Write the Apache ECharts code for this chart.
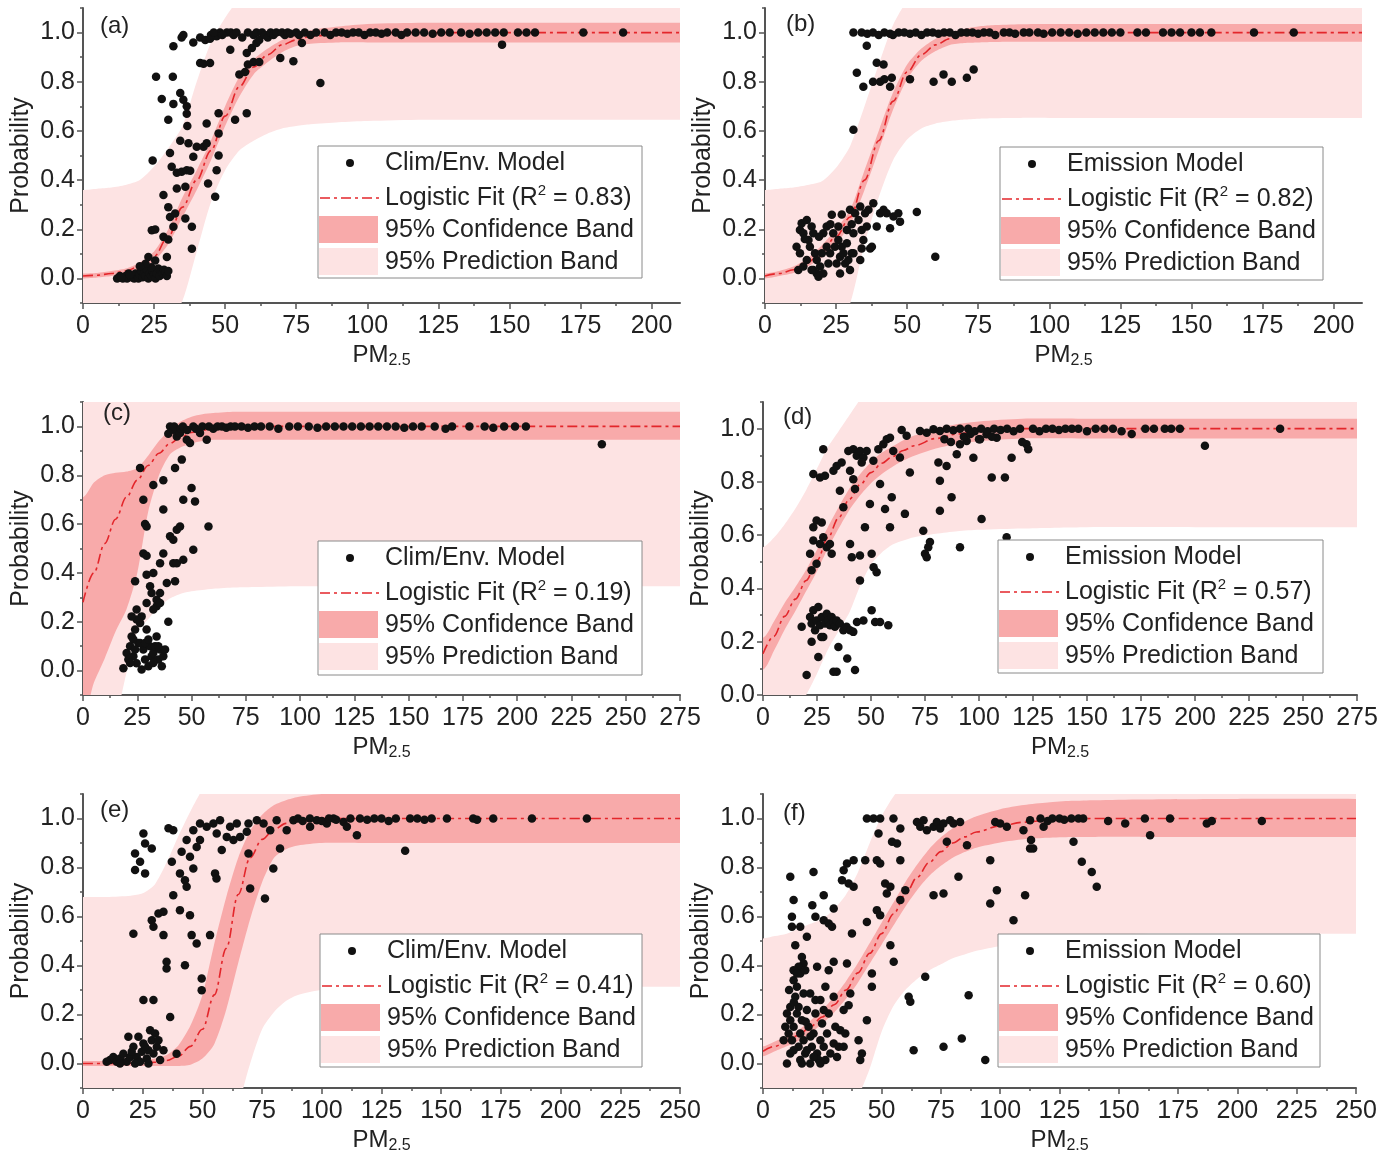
<!DOCTYPE html>
<html><head><meta charset="utf-8">
<script src="https://cdn.jsdelivr.net/npm/echarts@6/dist/echarts.min.js"></script>
<style>html,body{margin:0;padding:0;background:#fff}#c{width:1393px;height:1163px}</style>
</head><body><div id="c"></div>
<script>
// ---------------- text ----------------
const panelLabels = ['(a)','(b)','(c)','(d)','(e)','(f)'];
const modelNames = ['Clim/Env. Model','Emission Model','Clim/Env. Model','Emission Model','Clim/Env. Model','Emission Model'];
const r2Values = ['0.83','0.82','0.19','0.57','0.41','0.60'];
const legendRows = ['Logistic Fit','95% Confidence Band','95% Prediction Band'];
const yAxisName = 'Probability';
// ---------------- ticks ----------------
const xTicksAB = [0,25,50,75,100,125,150,175,200];
const xTicksCD = [0,25,50,75,100,125,150,175,200,225,250,275];
const xTicksEF = [0,25,50,75,100,125,150,175,200,225,250];
const yTicks = [0,0.2,0.4,0.6,0.8,1.0];
// ---------------- panel (a) ----------------
const aX = [0,5,10,15,20,25,30,35,40,45,50,55,60,65,70,75,80,90,100,120,150,180,210];
const aFit = [0.01,0.013,0.02,0.03,0.05,0.09,0.17,0.29,0.40,0.52,0.66,0.78,0.86,0.91,0.95,0.97,0.985,0.995,1,1,1,1,1];
const aConfLo = [0,0.004,0.01,0.02,0.035,0.07,0.14,0.25,0.36,0.48,0.62,0.74,0.83,0.88,0.92,0.945,0.955,0.96,0.96,0.96,0.96,0.96,0.96];
const aConfHi = [0.02,0.022,0.03,0.04,0.065,0.11,0.20,0.33,0.44,0.56,0.70,0.82,0.89,0.935,0.97,0.99,1.01,1.025,1.035,1.04,1.04,1.04,1.04];
const aPredLo = [-0.34,-0.335,-0.33,-0.32,-0.30,-0.26,-0.19,-0.09,0.11,0.31,0.44,0.52,0.56,0.59,0.61,0.62,0.627,0.635,0.64,0.645,0.645,0.645,0.645];
const aPredHi = [0.36,0.365,0.37,0.38,0.40,0.455,0.53,0.62,0.80,0.96,1.06,1.14,1.19,1.22,1.24,1.26,1.27,1.29,1.3,1.3,1.3,1.3,1.3];
const aPoints = [[12,0],[13,0.01],[14,0],[15,0.01],[15.5,0],[16,0.02],[17,0.005],[17.5,0.01],[18,0],[18.5,0.02],[19,0.01],[19.5,0],[20,0.015],[20.5,0.03],[21,0.005],[21.5,0.02],[22,0.01],[22.5,0.035],[23,0],[23.5,0.02],[24,0.01],[24.5,0.03],[25,0.015],[25.5,0],[26,0.02],[26.5,0.04],[27,0.01],[27.5,0.03],[28,0.02],[28.5,0.035],[29,0.025],[29.5,0.01],[30,0.03],[13.5,0.005],[16.5,0.015],[24,0.045],[22,0.06],[20,0.05],
[24.5,0.48],[25.7,0.82],[31.6,0.82],[27.7,0.73],[31.8,0.71],[30,0.645],[30.6,0.51],[31.8,0.944],[34.7,0.98],[35.3,0.99],[34.2,0.754],[35.3,0.727],[36.5,0.70],[36.5,0.67],[36.7,0.62],[34.2,0.56],[37.1,0.55],[31.2,0.454],[33,0.43],[34.7,0.434],[36.5,0.44],[37.7,0.438],[33,0.366],[36,0.373],[28.3,0.339],[30,0.29],[30.6,0.25],[32.4,0.264],[31.8,0.21],[36,0.244],[38.3,0.21],[24.2,0.196],[25.4,0.199],[28.3,0.169],[30,0.158],[38.3,0.121],[29.5,0.087],[25.4,0.073],[23,0.087],[38.8,0.495],[40,0.536],[42.4,0.536],[43.5,0.55],[43.5,0.63],[44,0.386],[46.5,0.332],[47,0.44],[47.7,0.50],[47.7,0.59],[47.7,0.672],[53.5,0.645],[57.6,0.672],[41.2,0.876],[42.4,0.873],[44.7,0.876],[38.8,0.96],[41.2,0.98],[43,0.97],[44.7,0.975],[47,0.985],[48.2,1],[50.6,1],[51.8,0.93],[55,0.83],[57,0.84],[58,0.87],[60,0.88],[62,0.88],[57.6,0.917],[59.4,0.937],[61,0.958],[69.4,0.897],[74,0.883],[77,0.958],[83.5,0.795],[147.4,0.951],
[45,0.99],[46,1],[49,0.99],[52,1],[53,0.99],[54,1],[56,0.98],[58,1],[60,0.99],[61,1],[62,0.97],[63,1],[64,0.99],[65,0.98],[66,1],[67,0.99],[68,1],[70,1],[71,0.99],[72,1],[73,0.995],[75,1],[76,0.99],[78,1],[80,0.99],[82,1],[85,1],[87,0.99],[89,1],[91,1],[93,0.995],[95,1],[97,1],[99,0.99],[101,1],[103,1],[105,0.995],[107,1],[110,1],[112,0.99],[114,1],[117,1],[120,1],[123,0.995],[126,1],[129,1],[133,1],[136,0.995],[139,1],[142,1],[145,1],[148,1],[153,1],[156,1],[159,1],[176,1],[190,1]];
// ---------------- panel (b) ----------------
const bX = [0,5,10,15,20,25,30,35,40,45,50,55,60,65,70,75,80,90,100,120,150,180,210];
const bFit = [0.01,0.02,0.035,0.065,0.11,0.17,0.25,0.40,0.56,0.72,0.84,0.91,0.95,0.975,0.99,0.995,1,1,1,1,1,1,1];
const bConfLo = [0,0.01,0.022,0.048,0.085,0.14,0.22,0.36,0.52,0.685,0.81,0.885,0.925,0.95,0.958,0.96,0.962,0.963,0.963,0.963,0.963,0.963,0.963];
const bConfHi = [0.02,0.03,0.048,0.082,0.135,0.2,0.28,0.44,0.60,0.755,0.87,0.935,0.975,1.0,1.015,1.025,1.03,1.034,1.035,1.035,1.035,1.035,1.035];
const bPredLo = [-0.34,-0.335,-0.33,-0.31,-0.27,-0.2,-0.1,0.14,0.33,0.48,0.565,0.61,0.63,0.64,0.646,0.65,0.652,0.653,0.653,0.653,0.653,0.653,0.653];
const bPredHi = [0.36,0.365,0.37,0.38,0.395,0.45,0.54,0.70,0.87,1.03,1.13,1.19,1.23,1.26,1.28,1.29,1.3,1.3,1.3,1.3,1.3,1.3,1.3];
const bPoints = [[31.1,1],[35.8,0.946],[32.3,0.837],[34.6,0.78],[31.1,0.605],[39.3,0.877],[41.7,0.87],[38,0.80],[40.5,0.80],[42,0.81],[44.6,0.816],[44,0.78],[51,0.81],[59.3,0.80],[62.8,0.83],[65.7,0.80],[71,0.816],[73.4,0.85],[59.9,0.088],[53.4,0.27],
[34,1],[36,0.995],[38,1],[40,0.99],[42,1],[44,0.995],[45,0.99],[47,1],[49,1],[51,0.995],[53,1],[55,0.99],[57,1],[59,1],[61,0.995],[63,1],[65,1],[67,0.99],[69,1],[71,1],[73,1],[75,0.995],[77,1],[79,1],[81,0.99],[84,1],[86,1],[88,0.995],[91,1],[93,1],[96,1],[98,0.995],[101,1],[104,1],[107,1],[110,0.995],[113,1],[116,1],[119,1],[122,1],[125,1],[131,1],[134,1],[140,1],[143,1],[146,1],[150,1],[153,1],[157,1],[172,1],[186,1],
[12.3,0.197],[12.9,0.224],[13.5,0.184],[14.7,0.238],[15.3,0.156],[15.8,0.129],[16.4,0.211],[17,0.184],[17.6,0.102],[18.2,0.075],[18.2,0.02],[18.8,0.007],[17,0.034],[19.4,0.048],[20,0.102],[20.5,0.184],[21.7,0.211],[22.3,0.061],[22.9,0.102],[23.5,0.259],[24,0.184],[24.6,0.129],[25.2,0.061],[25.8,0.156],[26.4,0.088],[27,0.129],[27.6,0.102],[28.2,0.061],[28.8,0.143],[29.3,0.075],[29.9,0.034],[30.5,0.102],[31.1,0.184],[29.9,0.279],[31.7,0.265],[32.9,0.238],[33.5,0.293],[34,0.197],[34.6,0.156],[35.2,0.265],[35.8,0.211],[36.4,0.279],[37,0.122],[38.1,0.306],[39.3,0.211],[40.5,0.265],[41.7,0.279],[42.8,0.265],[44,0.204],[45.2,0.252],[46.9,0.265],[47.5,0.231],[34,0.122],[37.6,0.129],[33.5,0.075],[26.4,0.02],[11.7,0.034],[13.5,0.048],[14.7,0.075],[12.3,0.102],[16.4,0.034],[20.5,0.02],[21.7,0.129],[25.8,0.211],[28.8,0.197],[31.1,0.102],[11.1,0.129],[14,0.16],[19,0.17],[23,0.22],[27,0.26],[30.5,0.22]];
// ---------------- panel (c) ----------------
const cX = [0,5,10,15,20,25,30,35,40,45,50,55,60,70,80,100,150,200,275];
const cFit = [0.28,0.40,0.52,0.62,0.71,0.78,0.84,0.89,0.93,0.955,0.975,0.985,0.99,0.997,1,1,1,1,1];
const cConfLo = [-0.18,-0.05,0.05,0.16,0.25,0.40,0.65,0.80,0.885,0.915,0.93,0.94,0.945,0.945,0.945,0.945,0.945,0.945,0.945];
const cConfHi = [0.71,0.77,0.80,0.81,0.815,0.83,0.88,0.94,0.985,1.02,1.04,1.05,1.055,1.06,1.06,1.06,1.06,1.06,1.06];
const cPredLo = [-0.45,-0.38,-0.3,-0.2,-0.01,0.16,0.21,0.26,0.295,0.315,0.325,0.33,0.335,0.34,0.342,0.345,0.345,0.345,0.345];
const cPredHi = [1.3,1.3,1.3,1.3,1.3,1.3,1.3,1.3,1.3,1.3,1.3,1.3,1.3,1.3,1.3,1.3,1.3,1.3,1.3];
const cPoints = [[26.3,0.83],[27.8,0.70],[28.6,0.60],[29.3,0.59],[27.8,0.48],[29.3,0.47],[24,0.366],[29.3,0.393],[32.4,0.76],[37,0.78],[37,0.66],[32.4,0.40],[35.5,0.44],[37,0.48],[40.1,0.55],[41.6,0.536],[43.2,0.577],[44.7,0.59],[41.6,0.44],[43.2,0.44],[46.2,0.454],[50.8,0.495],[38.6,0.359],[42.4,0.366],[46.2,0.70],[50,0.748],[51.6,0.693],[57.8,0.59],[42.4,0.83],[45.5,0.864],[30.9,0.345],[31.6,0.318],[33.9,0.29],[33.9,0.263],[35.5,0.277],[32.4,0.25],[39.3,0.20],[35.5,0.318],
[18.6,0.01],[20.1,0.072],[21.7,0.10],[22.4,0.14],[23.2,0.059],[24,0.168],[24.7,0.03],[25.5,0.113],[26.3,0.195],[27,0.222],[27.8,0.086],[28.6,0.045],[29.3,0.168],[30.1,0.018],[30.9,0.10],[31.6,0.059],[32.4,0.072],[33.2,0.10],[33.9,0.14],[34.7,0.045],[35.5,0.086],[36.3,0.018],[37,0.059],[37.8,0.086],[20.9,0.045],[23.2,0.127],[24.7,0.209],[26.3,0.113],[28.6,0.113],[30.1,0.127],[32.4,0.031],[34.7,0.10],[24,0.086],[21.7,0.031],[27,0.004],[22.4,0.222],[24.7,0.25],[29.3,0.277],
[39.3,0.97],[40.1,1],[41.6,0.986],[43.2,0.959],[44.7,0.973],[47.8,0.945],[49.3,0.932],[50.8,1],[53.9,0.973],[57,0.945],[42,1],[45,0.99],[46,1],[48,0.985],[52,0.99],[55,1],[58,1],[60,0.99],[62,1],[64,1],[66,0.995],[68,1],[70,1],[73,1],[76,0.995],[79,1],[82,1],[86,1],[90,0.99],[95,1],[99,1],[104,1],[108,0.995],[112,1],[116,1],[120,1],[124,1],[128,1],[132,1],[136,1],[140,1],[144,1],[148,0.995],[152,1],[156,1],[162,1],[167,0.99],[170,1],[178,1],[185,1],[189,0.995],[194,1],[199,1],[204,1],[239,0.927]];
// ---------------- panel (d) ----------------
const dX = [0,5,10,15,20,25,30,35,40,45,50,55,60,65,70,80,90,100,120,150,200,275];
const dFit = [0.155,0.22,0.295,0.36,0.43,0.505,0.59,0.665,0.735,0.79,0.835,0.87,0.895,0.918,0.936,0.963,0.98,0.99,1,1,1,1];
const dConfLo = [0.095,0.165,0.245,0.315,0.39,0.465,0.55,0.625,0.695,0.75,0.795,0.83,0.857,0.88,0.898,0.925,0.943,0.953,0.963,0.963,0.963,0.963];
const dConfHi = [0.215,0.275,0.345,0.405,0.47,0.545,0.63,0.705,0.775,0.83,0.875,0.91,0.933,0.956,0.974,1.0,1.017,1.027,1.037,1.037,1.037,1.037];
const dPredLo = [-0.25,-0.19,-0.13,-0.07,0.0,0.08,0.17,0.24,0.31,0.41,0.49,0.535,0.565,0.58,0.592,0.605,0.615,0.62,0.625,0.63,0.63,0.63];
const dPredHi = [0.555,0.59,0.64,0.70,0.77,0.85,0.93,0.99,1.05,1.11,1.16,1.2,1.23,1.25,1.27,1.3,1.32,1.34,1.36,1.37,1.37,1.37];
const dPoints = [[20.2,0.075],[17.9,0.256],[21.8,0.293],[22.5,0.268],[23.3,0.318],[24.1,0.243],[24.8,0.28],[25.6,0.33],[26.4,0.262],[27.2,0.293],[27.9,0.218],[28.7,0.268],[29.5,0.305],[30.2,0.28],[31,0.262],[31.8,0.293],[32.6,0.274],[33.3,0.256],[34.1,0.28],[35.6,0.268],[37.2,0.243],[38.7,0.256],[40.3,0.243],[41.8,0.237],[43.5,0.274],[46.5,0.28],[50.3,0.318],[51.9,0.274],[54.2,0.274],[58,0.262],[22.5,0.2],[27,0.218],[25.6,0.143],[34.9,0.18],[39,0.137],[32.6,0.087],[34.1,0.087],[42.6,0.094],
[21.8,0.53],[23.3,0.63],[24.8,0.655],[27.2,0.648],[27.9,0.592],[26.4,0.567],[23.3,0.58],[29.5,0.555],[22.5,0.468],[24.8,0.493],[27.9,0.923],[23.3,0.83],[26.4,0.817],[28.7,0.823],[32.6,0.842],[34.1,0.86],[36.4,0.873],[35.6,0.767],[37.2,0.705],[31.8,0.53],[31,0.567],[40.3,0.567],[41.1,0.517],[44.9,0.524],[44.9,0.43],[47.2,0.63],[49.5,0.717],[50.3,0.53],[51.2,0.48],[52.6,0.461],[54.2,0.792],[56.5,0.698],[58.8,0.63],[59.6,0.742],[65.7,0.68],[68,0.835],[39.5,0.916],[41.8,0.923],[43.4,0.898],[44.9,0.916],[46.5,0.892],[40.3,0.842],[41.8,0.81],[42.6,0.773],[45.7,0.873],[48,0.916],[51.1,0.879],[53.4,0.923],[55.7,0.941],[57.3,0.96],[58.8,0.966],[60.3,0.916],[64.2,0.995],[66.5,0.973],[63.4,0.892],
[74.2,0.617],[75,0.53],[75.8,0.517],[76.5,0.555],[77.3,0.574],[81.2,0.873],[81.9,0.804],[81.9,0.692],[85,0.86],[87.3,0.742],[91.2,0.555],[89.7,0.904],[91.2,0.941],[94.3,0.954],[101.2,0.661],[105.9,0.817],[112,0.817],[112.8,0.592],[115.1,0.891],[122,0.941],[122.8,0.923],[97.4,0.891],[100.5,0.96],[103.5,0.979],[108.2,0.966],
[72.7,0.991],[75.8,0.985],[78.9,0.998],[81.9,0.991],[85,1],[88.1,0.994],[91.2,1],[95,1],[98,0.99],[101,1],[104,0.99],[107,1],[110,0.995],[113,1],[116,0.99],[119,1],[125,1],[128,0.99],[131,1],[134,1],[137,0.995],[140,1],[143,1],[146,1],[150,0.99],[154,1],[158,1],[162,1],[166,0.99],[170.7,0.98],[177,1],[181,1],[186,1],[189,1],[193,1],[204.6,0.936],[239.4,1],[84,0.96],[87,0.95],[93,0.97],[96,0.98],[100,0.96],[106,0.97],[120,0.95]];
// ---------------- panel (e) ----------------
const eX = [0,10,20,25,30,35,40,45,50,55,60,65,70,75,80,85,90,100,120,150,200,250];
const eFit = [0,0,0.001,0.002,0.005,0.012,0.03,0.07,0.14,0.28,0.47,0.69,0.84,0.915,0.955,0.98,0.992,1,1,1,1,1];
const eConfLo = [-0.01,-0.01,-0.01,-0.01,-0.01,-0.01,-0.01,-0.005,0.02,0.08,0.22,0.41,0.59,0.74,0.84,0.875,0.89,0.9,0.9,0.9,0.9,0.9];
const eConfHi = [0.01,0.01,0.012,0.015,0.02,0.035,0.075,0.155,0.28,0.49,0.68,0.84,0.95,1.015,1.055,1.075,1.088,1.1,1.1,1.1,1.1,1.1];
const ePredLo = [-0.68,-0.68,-0.68,-0.68,-0.68,-0.68,-0.67,-0.63,-0.55,-0.42,-0.28,-0.17,0.0,0.14,0.21,0.255,0.28,0.30,0.31,0.313,0.313,0.313];
const ePredHi = [0.68,0.68,0.685,0.695,0.73,0.82,0.93,1.03,1.12,1.2,1.25,1.28,1.3,1.31,1.31,1.31,1.31,1.31,1.31,1.31,1.31,1.31];
const ePoints = [[21.8,0.857],[21.8,0.79],[23.9,0.823],[26,0.776],[25.3,0.939],[26,0.898],[28.8,0.878],[21.1,0.53],[25.3,0.259],[29.5,0.259],[28.8,0.585],[29.5,0.558],[31.6,0.612],[33.7,0.619],[33.7,0.524],[35,0.415],[35,0.388],[36.5,0.19],[35.8,0.96],[37.8,0.952],[37.2,0.823],[37.8,0.687],[40.6,0.626],[40.6,0.776],[41.3,0.864],[42.7,0.748],[43.4,0.721],[42.7,0.401],[44.8,0.605],[45.5,0.524],[47.6,0.49],[49.7,0.347],[49.7,0.299],[53.2,0.524],[43.4,0.912],[44.8,0.844],[46.2,0.796],[47.6,0.884],[49,0.912],[46.2,0.952],[49,0.98],[51.8,0.966],[55.3,0.776],[55.9,0.755],[58.1,0.871],[57.4,0.993],[60.2,0.925],[63,0.912],[65.8,0.925],[68.6,0.946],[69.3,0.857],[70,0.714],[69.3,0.98],[72.8,0.993],[75.6,0.98],[76.2,0.673],[79.7,0.796],[82.5,0.878],[78.4,0.952],[81.1,0.993],[85.3,0.952],[88.1,0.993],[95.1,0.966],[97.9,0.993],[102.1,0.98],[104.9,1],[109.1,0.986],[54.6,0.98],[56,0.939],[61.6,0.966],[64.4,0.98],[39.2,0.04],
[11.3,0.014],[12.7,0.027],[14.1,0.007],[15.5,0.02],[16.9,0.04],[18.3,0.007],[19.7,0.027],[19,0.109],[21.1,0.068],[22.5,0.027],[23.2,0.109],[23.9,0.007],[24.6,0.048],[25.3,0.082],[26.7,0.02],[27.4,0.054],[28.1,0.136],[28.8,0.095],[29.5,0.041],[30.2,0.122],[30.9,0.068],[31.6,0.095],[32.3,0.014],[33.7,0.054],[20.4,0.048],[26,0.068],[9.9,0.007],[15.5,0],[21.8,0],[27.4,0],
[90,1],[92,0.99],[95,1],[100,0.99],[103,1],[106,0.995],[110.5,0.966],[114.7,0.932],[112,1],[116,1],[119,0.995],[122,1],[125,1],[128,0.99],[131,1],[134.9,0.868],[137,1],[140,1],[143,0.995],[146,1],[152.4,1],[163.4,1],[165,0.995],[171.8,1],[188,1],[211,1]];
// ---------------- panel (f) ----------------
const fX = [0,5,10,15,20,25,30,35,40,45,50,55,60,65,70,75,80,85,90,100,110,120,130,140,160,200,250];
const fFit = [0.05,0.07,0.09,0.115,0.15,0.19,0.24,0.30,0.37,0.45,0.53,0.61,0.69,0.76,0.82,0.865,0.90,0.925,0.945,0.97,0.985,0.993,0.998,1,1,1,1];
const fConfLo = [0.03,0.05,0.07,0.093,0.125,0.162,0.208,0.264,0.33,0.408,0.485,0.563,0.64,0.708,0.765,0.807,0.84,0.863,0.881,0.902,0.915,0.921,0.924,0.925,0.925,0.925,0.925];
const fConfHi = [0.07,0.09,0.11,0.137,0.175,0.218,0.272,0.336,0.41,0.492,0.575,0.657,0.74,0.812,0.875,0.923,0.96,0.987,1.009,1.038,1.055,1.065,1.072,1.075,1.078,1.08,1.08];
const fPredLo = [-0.41,-0.40,-0.39,-0.38,-0.37,-0.35,-0.30,-0.24,-0.14,-0.02,0.13,0.235,0.30,0.345,0.38,0.405,0.43,0.445,0.46,0.48,0.495,0.51,0.52,0.525,0.53,0.53,0.53];
const fPredHi = [0.51,0.52,0.53,0.55,0.57,0.59,0.63,0.69,0.78,0.90,1.01,1.09,1.15,1.2,1.24,1.27,1.3,1.32,1.34,1.37,1.39,1.4,1.41,1.42,1.43,1.44,1.45];
const fPoints = [[11.5,0.762],[12.9,0.667],[12.2,0.599],[12.2,0.558],[13.6,0.483],[15.7,0.558],[16.4,0.435],[17.1,0.408],[15,0.395],[12.9,0.34],[15.7,0.367],[17.8,0.381],[18.5,0.517],[20.8,0.646],[21.3,0.782],[22.8,0.395],[22.1,0.599],[25.6,0.687],[25.6,0.585],[27.7,0.571],[29.1,0.558],[29.8,0.633],[26.3,0.313],[27.7,0.381],[29.8,0.415],[29.8,0.272],[33.3,0.748],[34,0.789],[35.4,0.816],[38.2,0.83],[36.1,0.735],[38.2,0.721],[35.4,0.408],[37.5,0.531],[36.8,0.286],[36.1,0.238],[34,0.218],[43.1,0.83],[43.8,1],[46.6,1],[49.4,1],[55,1],[48.7,0.939],[48,0.83],[49.4,0.816],[48,0.626],[49.4,0.605],[45.9,0.367],[45.9,0.313],[43.8,0.578],[54.4,0.905],[56.5,0.898],[57.9,0.959],[57.9,0.83],[51.5,0.735],[52.2,0.694],[53.7,0.721],[53.7,0.483],[55.1,0.415],[57.9,0.667],[60,0.707],[61.4,0.272],[62.1,0.252],[68.4,0.354],[63.5,0.054],[64.9,0.986],[66.3,0.966],[67.7,0.993],[69.1,0.952],[71.9,0.966],[73.3,0.986],[74.7,0.959],[76.1,0.98],[77.5,0.905],[78.9,0.993],[80.3,0.98],[83.1,0.986],[71.9,0.687],[76.1,0.694],[82.4,0.762],[86,0.891],[86.7,0.279],[76.1,0.068],[83.8,0.102],[93.7,0.014],[95.8,0.83],[95.8,0.653],[98.6,0.707],[97.9,0.986],[100,0.98],[102.8,0.966],[105.6,0.585],[110.5,0.687],[112.6,0.993],[113.9,0.878],[109.8,0.952],
[10.1,0],[11.5,0.041],[12.2,0.095],[12.9,0.15],[10.1,0.204],[10.8,0.122],[11.5,0.231],[13.6,0.272],[14.3,0.204],[15,0.068],[15.7,0.014],[15.7,0.122],[16.4,0.177],[17.1,0.095],[17.8,0.041],[18.5,0.218],[19.2,0.15],[19.9,0],[20.6,0.068],[21.3,0.122],[22.1,0.204],[22.8,0.041],[23.5,0.014],[24.2,0.095],[24.9,0.163],[25.6,0.068],[26.3,0.014],[27,0.122],[27.7,0.204],[28.4,0.041],[29.8,0.082],[30.5,0.15],[31.2,0.027],[31.9,0.068],[32.6,0.136],[34,0.068],[34.7,0.122],[8.7,0.095],[9.4,0.15],[11.5,0.177],[14.3,0.313],[15,0.231],[17.1,0.286],[19.9,0.286],[22.1,0.259],[24.2,0.259],[25.6,0.218],[21.3,0.027],[18.5,0.054],[12.9,0.054],[16.4,0],[24.2,0],[40.3,0.095],[41,0.014],[41.7,0.041],[43.8,0.177],[12.9,0.381],[14.3,0.367],[11,0.3],[13,0.25],[18,0.17],[20,0.11],
[112.6,0.878],[113,0.912],[118.3,0.966],[130.9,0.905],[134.4,0.823],[138.6,0.782],[140.7,0.721],[117,1],[120,0.99],[122,1],[125,1],[127,0.995],[130,1],[133,1],[135,1],[145.5,0.99],[152.7,0.98],[161,1],[163.2,0.932],[171.6,1],[187.1,0.98],[189.2,0.99],[210.3,0.99]];

// ---------------- assemble ----------------
const panelData = [
  {X:aX, fit:aFit, cLo:aConfLo, cHi:aConfHi, pLo:aPredLo, pHi:aPredHi, pts:aPoints, xMax:210, yMin:-0.1, xTicks:xTicksAB},
  {X:bX, fit:bFit, cLo:bConfLo, cHi:bConfHi, pLo:bPredLo, pHi:bPredHi, pts:bPoints, xMax:210, yMin:-0.1, xTicks:xTicksAB},
  {X:cX, fit:cFit, cLo:cConfLo, cHi:cConfHi, pLo:cPredLo, pHi:cPredHi, pts:cPoints, xMax:275, yMin:-0.1, xTicks:xTicksCD},
  {X:dX, fit:dFit, cLo:dConfLo, cHi:dConfHi, pLo:dPredLo, pHi:dPredHi, pts:dPoints, xMax:275, yMin:0, xTicks:xTicksCD},
  {X:eX, fit:eFit, cLo:eConfLo, cHi:eConfHi, pLo:ePredLo, pHi:ePredHi, pts:ePoints, xMax:250, yMin:-0.1, xTicks:xTicksEF},
  {X:fX, fit:fFit, cLo:fConfLo, cHi:fConfHi, pLo:fPredLo, pHi:fPredHi, pts:fPoints, xMax:250, yMin:-0.1, xTicks:xTicksEF}
];
const layout = [
  {grid:{left:83,top:8,width:597,height:295}, legend:{x:318,y:146,w:324,h:132}, tag:{x:100,y:26}},
  {grid:{left:765,top:8,width:597,height:295}, legend:{x:1000,y:147,w:323,h:133}, tag:{x:786,y:24}},
  {grid:{left:83,top:402,width:597,height:293}, legend:{x:318,y:541,w:324,h:134}, tag:{x:103,y:413}},
  {grid:{left:763,top:402,width:594,height:293}, legend:{x:998,y:540,w:325,h:133}, tag:{x:783,y:417}},
  {grid:{left:83,top:794,width:597,height:294}, legend:{x:320,y:934,w:322,h:133}, tag:{x:100,y:810}},
  {grid:{left:763,top:794,width:593,height:294}, legend:{x:998,y:934,w:322,h:133}, tag:{x:783,y:813}}
];
const FONT = '"Liberation Sans", Arial, sans-serif';
const TXT = '#222';
const AX = '#555';
const PRED = '#fde3e3';
const CONF = '#f8aaaa';
const FITC = '#e3262b';
const DASH = [10,4,3,4];

function minorOf(ticks, lo, hi){
  const step = ticks[1]-ticks[0], out=[];
  for (let v = ticks[0]-step/2; v <= hi+1e-9; v += step){ if (v >= lo-1e-9) out.push(+v.toFixed(4)); }
  return out;
}

// band drawn as one filled polygon through the library's coordinate system
function bandSeries(i, X, lo, hi, color, z){
  return {
    type:'custom', xAxisIndex:2*i, yAxisIndex:2*i, z:z, silent:true, animation:false, clip:true,
    data: X.map((x,k)=>[x, lo[k], hi[k]]),
    encode:{x:0, y:[1,2]},
    renderItem:(params, api)=>{
      if (params.dataIndex !== 0) return null;
      const n = X.length;
      const top = [], bot = [];
      for (let k=0;k<n;k++){ top.push(api.coord([api.value(0,k), api.value(2,k)])); }
      for (let k=n-1;k>=0;k--){ bot.push(api.coord([api.value(0,k), api.value(1,k)])); }
      const ext = 30;
      const pts = [[top[0][0]-ext, top[0][1]]].concat(top, [[top[n-1][0]+ext, top[n-1][1]], [bot[0][0]+ext, bot[0][1]]], bot, [[bot[n-1][0]-ext, bot[n-1][1]]]);
      const cs = params.coordSys;
      return {type:'polygon', shape:{points:pts, smooth:0.25}, style:{fill:color, stroke:null},
        clipPath:{type:'rect', shape:{x:cs.x, y:cs.y, width:cs.width, height:cs.height}}};
    }
  };
}

const grids=[], xAxes=[], yAxes=[], series=[], graphics=[];
panelData.forEach((p,i)=>{
  const L = layout[i];
  grids.push(Object.assign({outerBoundsMode:'none', containLabel:false}, L.grid));
  const tickStyle = {color:AX, width:1.5};
  xAxes.push({type:'value', gridIndex:i, min:0, max:p.xMax, position:'bottom',
    axisLine:{show:true, onZero:false, lineStyle:{color:AX, width:2}},
    axisTick:{show:true, customValues:p.xTicks, length:6, lineStyle:tickStyle},
    axisLabel:{show:true, customValues:p.xTicks, fontSize:25, color:TXT, fontFamily:FONT, margin:11},
    splitLine:{show:false},
    name:'{pm|PM}{sub|2.5}', nameLocation:'middle', nameGap:38, nameMoveOverlap:false,
    nameTextStyle:{fontFamily:FONT, color:TXT, rich:{pm:{fontSize:24, lineHeight:28, fontFamily:FONT, color:TXT}, sub:{fontSize:16, lineHeight:6, verticalAlign:'bottom', fontFamily:FONT, color:TXT}}}
  });
  xAxes.push({type:'value', gridIndex:i, min:0, max:p.xMax, position:'bottom',
    axisLine:{show:false, onZero:false}, axisTick:{show:true, customValues:minorOf(p.xTicks,0,p.xMax), length:3, lineStyle:tickStyle},
    axisLabel:{show:false}, splitLine:{show:false}});
  yAxes.push({type:'value', gridIndex:i, min:p.yMin, max:1.1, position:'left',
    axisLine:{show:true, onZero:false, lineStyle:{color:AX, width:2}},
    axisTick:{show:true, customValues:yTicks, length:6, lineStyle:tickStyle},
    axisLabel:{show:true, customValues:yTicks, fontSize:25, color:TXT, fontFamily:FONT, margin:8, formatter:v=>Number(v).toFixed(1)},
    splitLine:{show:false},
    name:yAxisName, nameLocation:'middle', nameGap:49, nameRotate:90, nameMoveOverlap:false,
    nameTextStyle:{fontSize:25, color:TXT, fontFamily:FONT}
  });
  yAxes.push({type:'value', gridIndex:i, min:p.yMin, max:1.1, position:'left',
    axisLine:{show:false, onZero:false}, axisTick:{show:true, customValues:minorOf(yTicks,p.yMin,1.1), length:3, lineStyle:tickStyle},
    axisLabel:{show:false}, splitLine:{show:false}});
  const xi = 2*i, yi = 2*i;
  series.push(bandSeries(i, p.X, p.pLo, p.pHi, PRED, 1));
  series.push(bandSeries(i, p.X, p.cLo, p.cHi, CONF, 2));
  series.push({type:'line', xAxisIndex:xi, yAxisIndex:yi, symbol:'none', smooth:0.35, smoothMonotone:'x', z:3, animation:false, clip:true, silent:true,
    lineStyle:{color:FITC, width:1.6, type:DASH}, data:p.X.map((x,k)=>[x,p.fit[k]])});
  series.push({type:'scatter', xAxisIndex:xi, yAxisIndex:yi, symbol:'circle', symbolSize:8.5, z:4, animation:false,
    itemStyle:{color:'#111', opacity:1}, data:p.pts});

  // legend box
  const g = L.legend;
  const rich = {t:{fontSize:25, fontFamily:FONT, lineHeight:30, fill:TXT, color:TXT}, s:{fontSize:15, fontFamily:FONT, lineHeight:14, verticalAlign:'top', fill:TXT, color:TXT}};
  graphics.push({type:'rect', z:100, shape:{x:g.x, y:g.y, width:g.w, height:g.h}, style:{fill:'#fff', stroke:'#8a8a8a', lineWidth:1}});
  graphics.push({type:'circle', z:101, shape:{cx:g.x+32, cy:g.y+17, r:4}, style:{fill:'#111'}});
  graphics.push({type:'line', z:101, shape:{x1:g.x+2, y1:g.y+52, x2:g.x+62, y2:g.y+52}, style:{stroke:FITC, lineWidth:1.6, lineDash:DASH}});
  graphics.push({type:'rect', z:101, shape:{x:g.x+1, y:g.y+70, width:59, height:27}, style:{fill:CONF}});
  graphics.push({type:'rect', z:101, shape:{x:g.x+1, y:g.y+102, width:59, height:27}, style:{fill:PRED}});
  const texts = ['{t|'+modelNames[i]+'}', '{t|'+legendRows[0]+' (R}{s|2}{t| = '+r2Values[i]+')}', '{t|'+legendRows[1]+'}', '{t|'+legendRows[2]+'}'];
  [17,52,84,116].forEach((dy,k)=>{
    graphics.push({type:'text', z:102, x:g.x+67, y:g.y+dy, style:{text:texts[k], rich:rich, verticalAlign:'middle', align:'left', font:'25px '+FONT, fill:TXT}});
  });
  graphics.push({type:'text', z:102, x:L.tag.x, y:L.tag.y, style:{text:panelLabels[i], font:'24px '+FONT, fill:TXT, verticalAlign:'middle', align:'left'}});
});

const chart = echarts.init(document.getElementById('c'), null, {renderer:'canvas', width:1393, height:1163});
chart.setOption({
  animation:false,
  backgroundColor:'#fff',
  grid:grids, xAxis:xAxes, yAxis:yAxes, series:series, graphic:graphics
});
</script>
</body></html>
